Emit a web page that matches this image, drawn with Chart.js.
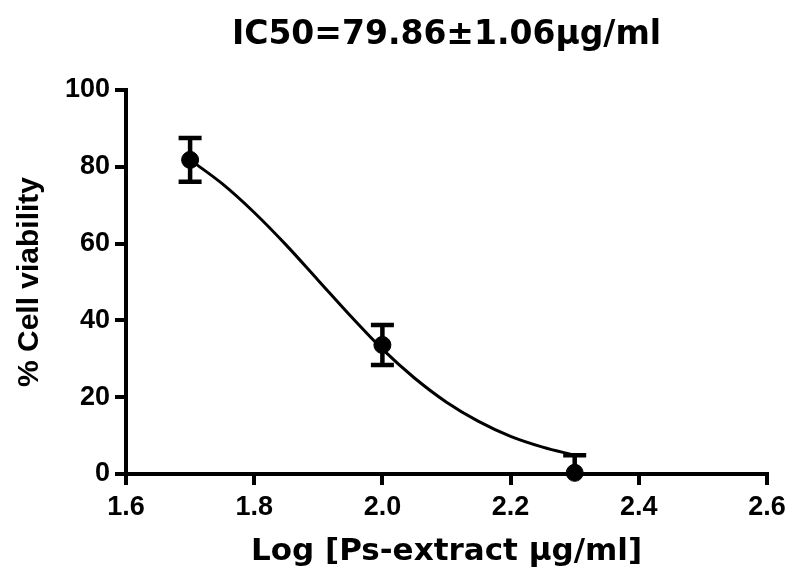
<!DOCTYPE html>
<html>
<head>
<meta charset="utf-8">
<script src="https://cdn.jsdelivr.net/npm/chart.js@4"></script>
<style>
  html, body { margin: 0; padding: 0; background: #fff; }
  #wrap { width: 793px; height: 574px; }
</style>
</head>
<body>
<div id="wrap"><canvas id="ic50Chart" width="793" height="574"></canvas></div>
<script>
// measured points (log dose vs % viability, mean +/- error)
const doseLog = [1.7, 2.0, 2.3];
const viability = [81.8, 33.6, 0.3];
const viabilityErr = [5.7, 5.2, 4.6];

// fitted curve
const fitLog = [1.7, 1.75, 1.8, 1.85, 1.9, 1.95, 2.0, 2.05, 2.1, 2.15, 2.2, 2.25, 2.3];
const fitViability = [81.8, 75.6, 68.1, 59.6, 50.4, 41.2, 32.5, 25.0, 18.7, 13.7, 9.8, 7.0, 4.9];

const xTicks = [1.6, 1.8, 2.0, 2.2, 2.4, 2.6];
const yTicks = [0, 20, 40, 60, 80, 100];

const errorBars = {
  id: 'errorBars',
  beforeDatasetsDraw(chart) {
    const ctx = chart.ctx;
    const xs = chart.scales.x, ys = chart.scales.y;
    const area = chart.chartArea;
    ctx.save();
    ctx.beginPath();
    ctx.rect(area.left - 20, area.top - 20, area.right - area.left + 40, area.bottom - area.top + 20);
    ctx.clip();
    ctx.strokeStyle = '#000';
    ctx.lineWidth = 4.5;
    ctx.lineCap = 'butt';
    doseLog.forEach((d, i) => {
      const px = xs.getPixelForValue(d);
      const hi = ys.getPixelForValue(viability[i] + viabilityErr[i]);
      const lo = ys.getPixelForValue(viability[i] - viabilityErr[i]);
      ctx.beginPath();
      ctx.moveTo(px, hi); ctx.lineTo(px, lo);
      ctx.moveTo(px - 11.5, hi); ctx.lineTo(px + 11.5, hi);
      ctx.moveTo(px - 11.5, lo); ctx.lineTo(px + 11.5, lo);
      ctx.stroke();
    });
    ctx.restore();
  }
};

function createChart() {
  const ctx = document.getElementById('ic50Chart').getContext('2d');
  return new Chart(ctx, {
    type: 'scatter',
    data: {
      datasets: [{
        type: 'line',
        data: fitLog.map((x, i) => ({ x: x, y: fitViability[i] })),
        borderColor: '#000',
        borderWidth: 3,
        pointRadius: 0,
        cubicInterpolationMode: 'monotone',
        fill: false,
        order: 2
      }, {
        data: doseLog.map((x, i) => ({ x: x, y: viability[i] })),
        backgroundColor: '#000',
        borderColor: '#000',
        pointRadius: 8.5,
        clip: false,
        order: 1
      }]
    },
    options: {
      responsive: false,
      animation: false,
      layout: { padding: { left: 0, right: 26, top: 0, bottom: 0 } },
      plugins: {
        legend: { display: false },
        tooltip: { enabled: false },
        title: {
          display: true,
          fullSize: false,
          text: 'IC50=79.86±1.06μg/ml',
          color: '#000',
          font: { family: 'DejaVu Sans', size: 33, weight: 'bold', lineHeight: 1.2 },
          padding: { top: 16, bottom: 34.4 }
        }
      },
      scales: {
        x: {
          type: 'linear',
          min: 1.6,
          max: 2.6,
          afterBuildTicks: s => { s.ticks = xTicks.map(v => ({ value: v })); },
          afterFit: s => { s.height = 100; },
          ticks: {
            color: '#000',
            padding: 6,
            font: { family: 'Liberation Sans', size: 27, weight: 'bold' },
            callback: v => v.toFixed(1)
          },
          grid: { drawOnChartArea: false, drawTicks: true, tickLength: 11, lineWidth: 4, color: '#000' },
          border: { display: true, width: 4, color: '#000' },
          title: {
            display: true,
            text: 'Log [Ps-extract μg/ml]',
            color: '#000',
            font: { family: 'DejaVu Sans', size: 31, weight: 'bold', lineHeight: 1.2 },
            padding: { top: 0, bottom: 3 }
          }
        },
        y: {
          min: 0,
          max: 100,
          afterBuildTicks: s => { s.ticks = yTicks.map(v => ({ value: v })); },
          afterFit: s => { s.width = 126; },
          ticks: {
            color: '#000',
            padding: 5,
            font: { family: 'Liberation Sans', size: 27, weight: 'bold' }
          },
          grid: { drawOnChartArea: false, drawTicks: true, tickLength: 11, lineWidth: 4, color: '#000' },
          border: { display: true, width: 4, color: '#000' },
          title: {
            display: true,
            text: '% Cell viability',
            color: '#000',
            font: { family: 'Liberation Sans', size: 30, weight: 'bold', lineHeight: 1.2 },
            padding: { top: 12, bottom: 0 }
          }
        }
      }
    },
    plugins: [errorBars]
  });
}

let chart = createChart();
</script>
</body>
</html>
